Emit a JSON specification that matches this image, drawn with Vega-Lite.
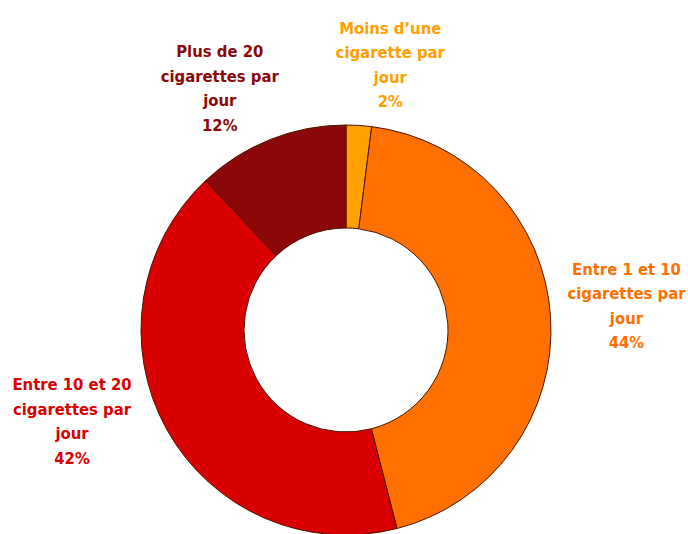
{
  "$schema": "https://vega.github.io/schema/vega-lite/v6.json",
  "autosize": {"type": "none"},
  "width": 688,
  "height": 408,
  "padding": {"top": 126, "left": 2, "right": -2, "bottom": 0},
  "background": "white",
  "data": {
    "values": [
      {"rang": 1, "categorie": "Moins d’une\ncigarette par\njour", "pct": 2},
      {"rang": 2, "categorie": "Entre 1 et 10\ncigarettes par\njour", "pct": 44},
      {"rang": 3, "categorie": "Entre 10 et 20\ncigarettes par\njour", "pct": 42},
      {"rang": 4, "categorie": "Plus de 20\ncigarettes par\njour", "pct": 12}
    ]
  },
  "transform": [
    {"calculate": "datum.categorie + '\\n' + datum.pct + '%'", "as": "etiquette"},
    {"stack": "pct", "groupby": [], "sort": [{"field": "rang", "order": "ascending"}], "as": ["debut", "fin"]},
    {"calculate": "(datum.debut + datum.fin) / 2", "as": "milieu"}
  ],
  "encoding": {
    "color": {
      "field": "categorie",
      "type": "nominal",
      "legend": null,
      "scale": {
        "domain": ["Moins d’une\ncigarette par\njour", "Entre 1 et 10\ncigarettes par\njour", "Entre 10 et 20\ncigarettes par\njour", "Plus de 20\ncigarettes par\njour"],
        "range": ["#FFA000", "#FF7000", "#D80000", "#8C0808"]
      }
    }
  },
  "layer": [
    {
      "mark": {"type": "arc", "outerRadius": 205, "innerRadius": 102, "stroke": "#4a1500", "strokeWidth": 1},
      "encoding": {
        "theta": {"field": "debut", "type": "quantitative", "scale": {"domain": [0, 100]}},
        "theta2": {"field": "fin"}
      }
    },
    {
      "transform": [{"filter": "datum.rang == 1"}],
      "mark": {"type": "text", "radius": 275, "dx": 27, "dy": -27, "lineBreak": "\n", "lineHeight": 24.5, "font": "DejaVu Sans Condensed", "fontWeight": "bold", "fontSize": 16.5, "align": "center", "baseline": "middle"},
      "encoding": {"theta": {"field": "milieu", "type": "quantitative"}, "text": {"field": "etiquette", "type": "nominal"}}
    },
    {
      "transform": [{"filter": "datum.rang == 2"}],
      "mark": {"type": "text", "radius": 275, "dx": 6, "dy": -43, "lineBreak": "\n", "lineHeight": 24.5, "font": "DejaVu Sans Condensed", "fontWeight": "bold", "fontSize": 16.5, "align": "center", "baseline": "middle"},
      "encoding": {"theta": {"field": "milieu", "type": "quantitative"}, "text": {"field": "etiquette", "type": "nominal"}}
    },
    {
      "transform": [{"filter": "datum.rang == 3"}],
      "mark": {"type": "text", "radius": 275, "dx": -33, "dy": -77, "lineBreak": "\n", "lineHeight": 24.5, "font": "DejaVu Sans Condensed", "fontWeight": "bold", "fontSize": 16.5, "align": "center", "baseline": "middle"},
      "encoding": {"theta": {"field": "milieu", "type": "quantitative"}, "text": {"field": "etiquette", "type": "nominal"}}
    },
    {
      "transform": [{"filter": "datum.rang == 4"}],
      "mark": {"type": "text", "radius": 275, "dx": -25, "dy": -22, "lineBreak": "\n", "lineHeight": 24.5, "font": "DejaVu Sans Condensed", "fontWeight": "bold", "fontSize": 16.5, "align": "center", "baseline": "middle"},
      "encoding": {"theta": {"field": "milieu", "type": "quantitative"}, "text": {"field": "etiquette", "type": "nominal"}}
    }
  ]
}
